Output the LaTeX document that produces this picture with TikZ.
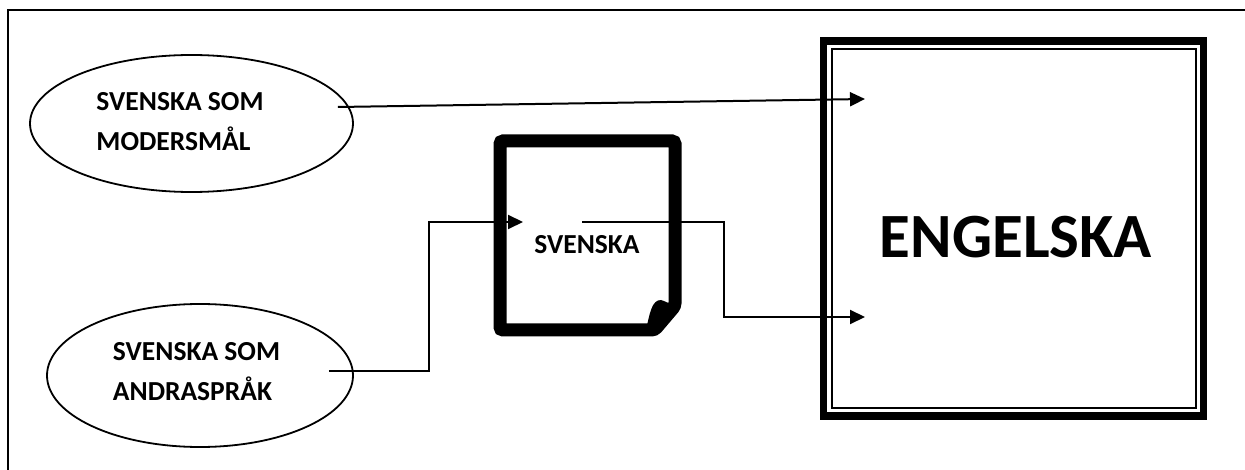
\documentclass[tikz,border=0pt]{standalone}
\usepackage{fontspec}
\setmainfont{Carlito}
\usetikzlibrary{arrows.meta,shapes.geometric,calc}

\tikzset{
  bubble/.style = {draw, line width=1.8pt, ellipse, inner sep=0pt},
  boldtext/.style = {font=\fontsize{27.5}{40}\selectfont\bfseries, align=left, inner sep=0pt},
  conn/.style = {draw, line width=2pt, -{Triangle[length=15pt,width=14pt]}},
}

\begin{document}
\begin{tikzpicture}[x=1pt, y=-1pt]
        \useasboundingbox(0,0)rectangle(1245,470);
        % frame
        \path[draw, line width=2.4pt](8,470)--(8,10)--(1245,10);
        % ellipses
        \node[bubble, minimum width=323pt, minimum height=137pt](mod)at(191.5,123.5){};
        \node[boldtext](modtxt)at(180,122){SVENSKA SOM\\MODERSMÅL};
        \node[bubble, minimum width=306pt, minimum height=143pt](andra)at(200,375.5){};
        \node[boldtext](andratxt)at(196.5,372){SVENSKA SOM\\ANDRASPRÅK};
        % dokument
        \path[draw, line width=13pt, rounded corners=3pt](500,141)--(675,141)--(675,306)--(654.6,330)--(500,330)--cycle;
        \path[fill](646,330)..controls(650,312)and(652,300)..(661,300)
            ..controls(664,300)and(666,303)..(670,303)--(675,306)--(654.6,330)--cycle;
        \node[boldtext](sv)at(587,245){SVENSKA};
        % engelska
        \node[draw, line width=7.5pt, minimum width=380pt, minimum height=375pt, inner sep=0pt](eng)at(1013.5,228.5){};
        \path[draw, line width=2.4pt]($(eng.north west)+(12,12)$)rectangle($(eng.south east)+(-11.5,-11.5)$);
        \node[font=\fontsize{63}{70}\selectfont\bfseries, inner sep=0pt](engtxt)at(1016,237){ENGELSKA};
        % pilar
        \coordinate(m0)at([xshift=-16pt, yshift=16.5pt]mod.east);
        \coordinate(a0)at([xshift=-25pt, yshift=4.5pt]andra.east);
        \coordinate(d1)at(523,222);
        \coordinate(d0)at(582,222);
        \coordinate(e1)at(865,99);
        \coordinate(e2)at(865,317);
        \path[conn](m0)--(e1);
        \path[conn](a0)--++(100,0)|-(d1);
        \path[conn](d0)--++(142,0)|-(e2);
\end{tikzpicture}
\end{document}
